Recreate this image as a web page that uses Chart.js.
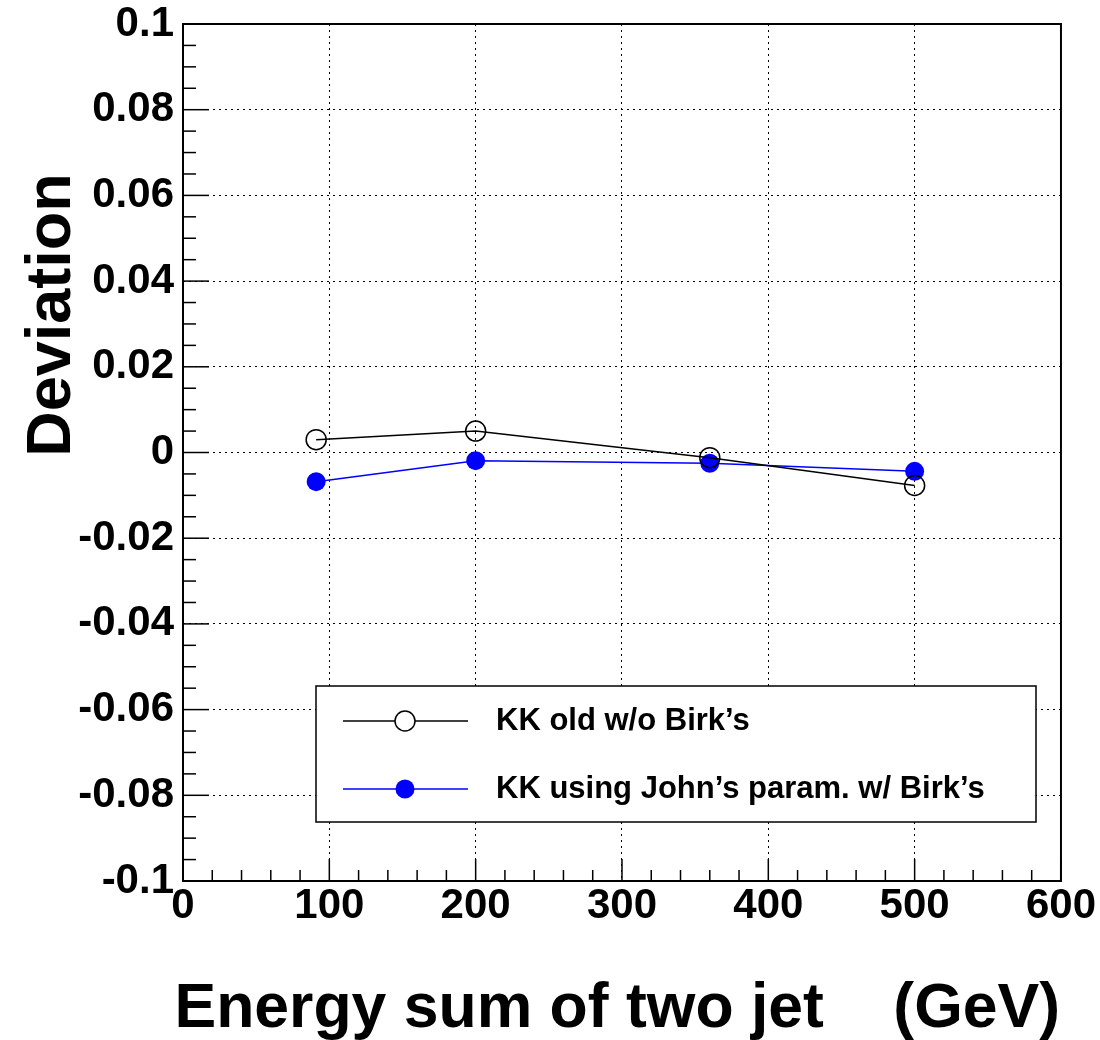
<!DOCTYPE html>
<html>
<head>
<meta charset="utf-8">
<script src="https://cdn.jsdelivr.net/npm/chart.js@4.4.0/dist/chart.umd.min.js"></script>
<style>
  html, body { margin: 0; padding: 0; background: #fff; }
  canvas { display: block; }
</style>
</head>
<body>
<canvas id="grafico" width="1100" height="1040"></canvas>
<script>
// energia de los dos jets (GeV)
const energias = [91, 200, 360, 500];
// desviacion, KK viejo sin Birk
const desviacionViejo = [0.003, 0.005, -0.0012, -0.0077];
// desviacion, parametros de John con Birk
const desviacionJohn = [-0.0068, -0.0019, -0.0025, -0.0044];

const etiquetasX = ['0', '100', '200', '300', '400', '500', '600'];
const etiquetasY = ['-0.1', '-0.08', '-0.06', '-0.04', '-0.02', '0', '0.02', '0.04', '0.06', '0.08', '0.1'];
const nombresSeries = ['KK old w/o Birk\u2019s', 'KK using John\u2019s param. w/ Birk\u2019s'];
const tituloX = 'Energy sum of two jet    (GeV)';
const tituloY = 'Deviation';

const fuente = '"Liberation Sans", Arial, Helvetica, sans-serif';

function puntos(valores) {
    return energias.map((e, i) => ({ x: e, y: valores[i] }));
}

// marco, ticks internos (estilo ROOT), leyenda y titulos
const marcoYEjes = {
    id: 'marcoYEjes',
    afterDatasetsDraw(chart) {
        const { ctx, chartArea: a, scales: { x, y } } = chart;
        ctx.save();
        ctx.strokeStyle = '#000';
        ctx.lineWidth = 1.5;
        ctx.setLineDash([]);

        // ticks del eje x
        for (let v = 0; v <= 600; v += 20) {
            const px = x.getPixelForValue(v);
            const largo = v % 100 === 0 ? 22 : 11;
            ctx.beginPath();
            ctx.moveTo(px, a.bottom);
            ctx.lineTo(px, a.bottom - largo);
            ctx.stroke();
        }
        // ticks del eje y
        for (let i = 0; i <= 40; i++) {
            const py = y.getPixelForValue(-0.1 + i * 0.005);
            const largo = i % 4 === 0 ? 26 : 13;
            ctx.beginPath();
            ctx.moveTo(a.left, py);
            ctx.lineTo(a.left + largo, py);
            ctx.stroke();
        }

        // marco
        ctx.lineWidth = 2;
        ctx.strokeRect(a.left, a.top, a.right - a.left, a.bottom - a.top);

        // leyenda
        const caja = { x: 316, y: 686, w: 720, h: 136 };
        ctx.fillStyle = '#fff';
        ctx.fillRect(caja.x, caja.y, caja.w, caja.h);
        ctx.lineWidth = 1.5;
        ctx.strokeRect(caja.x, caja.y, caja.w, caja.h);

        const filas = [721, 789];
        chart.data.datasets.forEach((ds, i) => {
            const fy = filas[i];
            ctx.strokeStyle = ds.borderColor;
            ctx.lineWidth = ds.borderWidth;
            ctx.beginPath();
            ctx.moveTo(343, fy);
            ctx.lineTo(468, fy);
            ctx.stroke();
            ctx.beginPath();
            ctx.arc(405, fy, ds.pointRadius, 0, Math.PI * 2);
            if (ds.pointBackgroundColor !== 'rgba(0,0,0,0)') {
                ctx.fillStyle = ds.pointBackgroundColor;
                ctx.fill();
            } else {
                ctx.fillStyle = '#fff';
                ctx.fill();
                ctx.lineWidth = ds.pointBorderWidth;
                ctx.stroke();
            }
            ctx.fillStyle = '#000';
            ctx.font = 'bold 31px ' + fuente;
            ctx.textAlign = 'left';
            ctx.textBaseline = 'middle';
            ctx.fillText(ds.label, 496, fy);
        });
        ctx.restore();
    },
    afterDraw(chart) {
        const { ctx } = chart;
        ctx.save();
        ctx.fillStyle = '#000';
        // titulo eje x
        ctx.font = 'bold 62.5px ' + fuente;
        ctx.textAlign = 'right';
        ctx.textBaseline = 'alphabetic';
        ctx.fillText(tituloX, 1060, 1027);
        // titulo eje y
        ctx.translate(70, 315);
        ctx.rotate(-Math.PI / 2);
        ctx.font = 'bold 63px ' + fuente;
        ctx.textAlign = 'center';
        ctx.fillText(tituloY, 0, 0);
        ctx.restore();
    }
};

const ctx = document.getElementById('grafico');

const grafico = new Chart(ctx, {
    type: 'line',
    data: {
        datasets: [{
            label: nombresSeries[0],
            data: puntos(desviacionViejo),
            borderColor: '#000000',
            borderWidth: 1.5,
            pointRadius: 10,
            pointHoverRadius: 10,
            pointBorderWidth: 1.5,
            pointBorderColor: '#000000',
            pointBackgroundColor: 'rgba(0,0,0,0)',
            tension: 0
        }, {
            label: nombresSeries[1],
            data: puntos(desviacionJohn),
            borderColor: '#0000ff',
            borderWidth: 1.5,
            pointRadius: 9.5,
            pointHoverRadius: 9.5,
            pointBorderWidth: 0,
            pointBorderColor: '#0000ff',
            pointBackgroundColor: '#0000ff',
            tension: 0
        }]
    },
    options: {
        responsive: false,
        animation: false,
        devicePixelRatio: 1,
        layout: { padding: { top: 24, right: 39, left: 0, bottom: 0 } },
        plugins: {
            legend: { display: false },
            tooltip: { enabled: false }
        },
        scales: {
            x: {
                type: 'linear',
                min: 0,
                max: 600,
                afterFit: (s) => { s.height = 159; },
                ticks: {
                    stepSize: 100,
                    padding: 4,
                    color: '#000',
                    maxRotation: 0,
                    font: { family: fuente, size: 42, weight: 'bold', lineHeight: 1 },
                    callback: (v) => etiquetasX[Math.round(v / 100)]
                },
                grid: { color: '#000', lineWidth: 1, drawTicks: false },
                border: { display: false, dash: [2, 4] }
            },
            y: {
                type: 'linear',
                min: -0.1,
                max: 0.1,
                afterFit: (s) => { s.width = 183; s.paddingTop = 0; s.paddingBottom = 0; },
                ticks: {
                    stepSize: 0.02,
                    padding: 9,
                    color: '#000',
                    font: { family: fuente, size: 42, weight: 'bold', lineHeight: 1 },
                    callback: (v) => etiquetasY[Math.round((v + 0.1) / 0.02)]
                },
                grid: { color: '#000', lineWidth: 1, drawTicks: false },
                border: { display: false, dash: [2, 4] }
            }
        }
    },
    plugins: [marcoYEjes]
});
</script>
</body>
</html>
